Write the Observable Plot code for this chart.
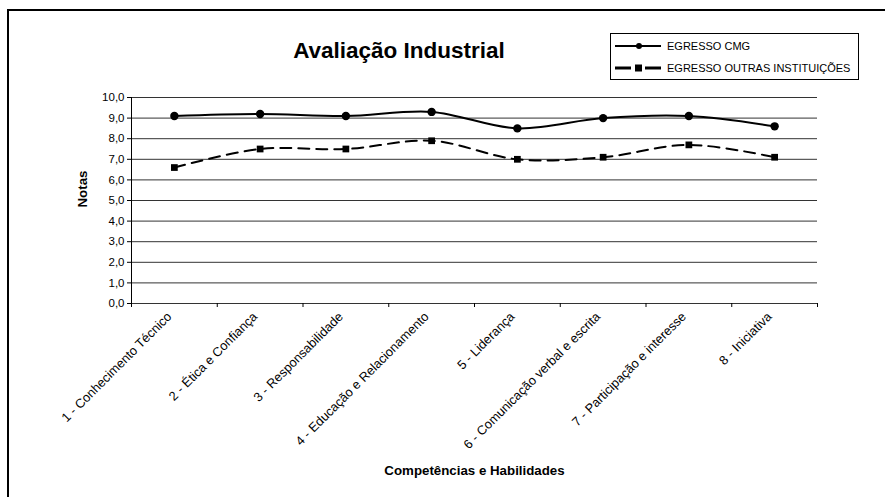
<!DOCTYPE html>
<html>
<head>
<meta charset="utf-8">
<script src="https://cdn.jsdelivr.net/npm/d3@7"></script>
<script src="https://cdn.jsdelivr.net/npm/@observablehq/plot@0.6"></script>
<style>
  html, body { margin: 0; padding: 0; background: #fff; }
  #wrap { position: relative; width: 885px; height: 497px; overflow: hidden; font-family: "Liberation Sans", Arial, sans-serif; }
  #frame { position: absolute; left: 7px; top: 9px; right: -5px; bottom: -10px; border-left: 2px solid #000; border-top: 2px solid #000; }
  #title { position: absolute; left: 249px; width: 300px; top: 38px; text-align: center; font-weight: bold; font-size: 22.5px; color: #000; }
  #legend { position: absolute; left: 610px; top: 33px; width: 247px; height: 45px; border: 1px solid #000; background: #fff; font-size: 11px; color: #000; }
  .lrow { position: absolute; left: 4px; height: 16px; display: flex; align-items: center; }
  .lrow span { margin-left: 6px; }
  #chart { position: absolute; left: 0; top: 0; }
</style>
</head>
<body>
<div id="wrap">
  <div id="frame"></div>
  <div id="chart"></div>
  <div id="title">Avaliação Industrial</div>
  <div id="legend"></div>
</div>
<script>
const categories = [
  "1 - Conhecimento Técnico",
  "2 - Ética e Confiança",
  "3 - Responsabilidade",
  "4 - Educação e Relacionamento",
  "5 - Liderança",
  "6 - Comunicação verbal e escrita",
  "7 - Participação e interesse",
  "8 - Iniciativa"
];
const seriesNames = ["EGRESSO CMG", "EGRESSO OUTRAS INSTITUIÇÕES"];
const cmg    = [9.1, 9.2, 9.1, 9.3, 8.5, 9.0, 9.1, 8.6];
const outras = [6.6, 7.5, 7.5, 7.9, 7.0, 7.1, 7.7, 7.1];
const yTicks = [0, 1, 2, 3, 4, 5, 6, 7, 8, 9, 10];
const xBounds = [0, 1, 2, 3, 4, 5, 6, 7, 8];

const rowsCmg = categories.map((c, i) => ({i: i + 0.5, cat: c, v: cmg[i]}));
const rowsOut = categories.map((c, i) => ({i: i + 0.5, cat: c, v: outras[i]}));
const fmt = d => d.toFixed(1).replace(".", ",");

const chart = Plot.plot({
  width: 885,
  height: 497,
  marginLeft: 131,
  marginRight: 68,
  marginTop: 97,
  marginBottom: 194,
  style: { fontFamily: "'Liberation Sans', Arial, sans-serif", fontSize: "11.5px", background: "transparent", color: "#000", overflow: "visible" },
  x: { domain: [0, 8], axis: null },
  y: { domain: [0, 10], axis: null },
  marks: [
    Plot.ruleY(yTicks, { stroke: "#333", strokeWidth: 1 }),
    Plot.ruleX([0], { y1: 0, y2: 10, stroke: "#000", strokeWidth: 1 }),
    Plot.axisY({ ticks: yTicks, tickFormat: fmt, tickSize: 4, tickPadding: 3, label: null, stroke: "#000", fontSize: 11.5 }),
    Plot.axisX({ ticks: xBounds, tickFormat: () => "", tickSize: 4, label: null, stroke: "#000" }),
    Plot.text(categories, {
      x: (d, i) => i + 0.5, y: 0, text: d => d,
      rotate: -45, textAnchor: "end", dx: -5, dy: 11, fontSize: 12.8, fill: "#000"
    }),
    Plot.line(rowsCmg, { x: "i", y: "v", stroke: "#000", strokeWidth: 2, curve: "catmull-rom" }),
    Plot.dot(rowsCmg, { x: "i", y: "v", r: 4.2, fill: "#000", stroke: "none" }),
    Plot.line(rowsOut, { x: "i", y: "v", stroke: "#000", strokeWidth: 2, strokeDasharray: "11,7", curve: "catmull-rom" }),
    Plot.dot(rowsOut, { x: "i", y: "v", r: 3.8, symbol: "square", fill: "#000", stroke: "none" }),
    Plot.text(["Notas"], { frameAnchor: "left", dx: -49, dy: 7, rotate: -90, fontWeight: "bold", fontSize: 13.3, fill: "#000" }),
    Plot.text(["Competências e Habilidades"], { frameAnchor: "bottom", dy: 171, fontWeight: "bold", fontSize: 13.3, fill: "#000" })
  ]
});
document.getElementById("chart").appendChild(chart);

// legend
const legend = document.getElementById("legend");
seriesNames.forEach((name, k) => {
  const row = document.createElement("div");
  row.className = "lrow";
  row.style.top = (k === 0 ? 4 : 26) + "px";
  const sw = k === 0
    ? `<svg width="46" height="10"><line x1="0" y1="5" x2="46" y2="5" stroke="#000" stroke-width="2"/><circle cx="24" cy="5" r="3" fill="#000"/></svg>`
    : `<svg width="46" height="10"><line x1="0" y1="5" x2="16" y2="5" stroke="#000" stroke-width="3"/><line x1="30" y1="5" x2="46" y2="5" stroke="#000" stroke-width="3"/><rect x="20" y="1.5" width="7" height="7" fill="#000"/></svg>`;
  row.innerHTML = sw + `<span>${name}</span>`;
  legend.appendChild(row);
});
</script>
</body>
</html>
